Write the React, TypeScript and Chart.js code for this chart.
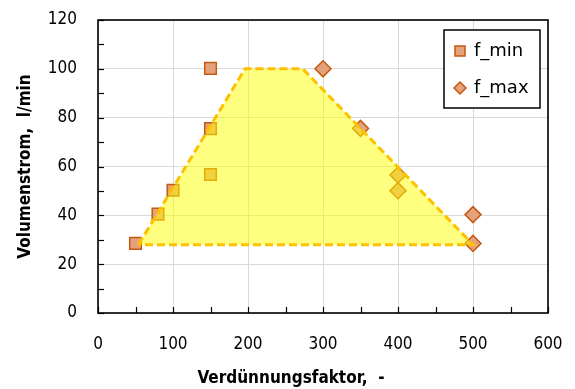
import React, { useEffect, useRef } from "react";
import { Chart, registerables } from "chart.js";

Chart.register(...registerables);

const minX = [50, 80, 100, 150, 150, 150];
const minY = [28.5, 40.5, 50.3, 56.7, 75.5, 100.2];
const maxX = [300, 350, 400, 400, 500, 500];
const maxY = [100, 75.6, 56.5, 50.1, 40.3, 28.5];
const zoneX = [54, 196, 273, 500, 54];
const zoneY = [28, 100, 100, 28, 28];

const xTicks = { min: 0, max: 600, step: 100, minor: 50 };
const yTicks = { min: 0, max: 120, step: 20, minor: 10 };

const xTitle = "Verdünnungsfaktor,  -";
const yTitle = "Volumenstrom,  l/min";

const FONT = "'DejaVu Sans Condensed', 'DejaVu Sans', sans-serif";
const MARK_FILL = "#E3A27C";
const MARK_BORDER = "#C55A11";

const framePlugin = {
  id: "frame",
  afterDatasetsDraw(chart: any) {
    const { ctx, chartArea: a, scales } = chart;
    ctx.save();
    ctx.strokeStyle = "#000";
    ctx.lineWidth = 1.2;
    for (let v = yTicks.min; v <= yTicks.max; v += yTicks.minor) {
      const y = Math.round(scales.y.getPixelForValue(v)) + 0.5;
      ctx.beginPath();
      ctx.moveTo(a.left, y);
      ctx.lineTo(a.left + 6, y);
      ctx.stroke();
    }
    for (let v = xTicks.min; v <= xTicks.max; v += xTicks.minor) {
      const x = Math.round(scales.x.getPixelForValue(v)) + 0.5;
      ctx.beginPath();
      ctx.moveTo(x, a.bottom);
      ctx.lineTo(x, a.bottom - 6);
      ctx.stroke();
    }
    ctx.lineWidth = 1.6;
    ctx.strokeRect(a.left, a.top, a.right - a.left, a.bottom - a.top);
    ctx.restore();
  },
  afterDraw(chart: any) {
    const { ctx } = chart;
    ctx.save();
    ctx.fillStyle = "#000";
    ctx.font = `bold 17px ${FONT}`;
    ctx.textAlign = "center";
    ctx.textBaseline = "middle";
    ctx.fillText(xTitle, 291, 379);
    const lx = 444, ly = 30, lw = 96, lh = 78;
    ctx.fillStyle = "#fff";
    ctx.fillRect(lx, ly, lw, lh);
    ctx.strokeStyle = "#000";
    ctx.lineWidth = 1.5;
    ctx.strokeRect(lx, ly, lw, lh);
    ctx.fillStyle = MARK_FILL;
    ctx.strokeStyle = MARK_BORDER;
    ctx.lineWidth = 1.5;
    ctx.beginPath();
    ctx.rect(455, 46, 10, 10);
    ctx.fill();
    ctx.stroke();
    ctx.beginPath();
    ctx.moveTo(454, 88);
    ctx.lineTo(460, 82);
    ctx.lineTo(466, 88);
    ctx.lineTo(460, 94);
    ctx.closePath();
    ctx.fill();
    ctx.stroke();
    ctx.fillStyle = "#000";
    ctx.font = "18px 'DejaVu Sans', sans-serif";
    ctx.textAlign = "left";
    ctx.textBaseline = "middle";
    ctx.fillText("f_min", 474, 51);
    ctx.fillText("f_max", 474, 88);
    ctx.restore();
  },
};

export default function App() {
  const ref = useRef<HTMLCanvasElement | null>(null);
  useEffect(() => {
    if (!ref.current) return;
    const chart = new Chart(ref.current, {
      type: "scatter",
      data: {
        datasets: [
          {
            label: "zone",
            data: zoneX.map((x, i) => ({ x, y: zoneY[i] })),
            showLine: true,
            fill: "shape",
            backgroundColor: "rgba(255,255,0,0.5)",
            borderColor: "#FFC000",
            borderWidth: 3,
            borderDash: [8, 4],
            pointRadius: 0,
            tension: 0,
            order: 0,
          } as any,
          {
            label: "f_min",
            data: minX.map((x, i) => ({ x, y: minY[i] })),
            pointStyle: "rect",
            pointRadius: 8.2,
            backgroundColor: MARK_FILL,
            borderColor: MARK_BORDER,
            borderWidth: 1.5,
            order: 1,
          },
          {
            label: "f_max",
            data: maxX.map((x, i) => ({ x, y: maxY[i] })),
            pointStyle: "rectRot",
            pointRadius: 8,
            backgroundColor: MARK_FILL,
            borderColor: MARK_BORDER,
            borderWidth: 1.5,
            order: 2,
          },
        ],
      },
      options: {
        responsive: false,
        animation: false,
        layout: { padding: { left: 0, right: 27, top: 20, bottom: 0 } },
        plugins: {
          legend: { display: false },
          tooltip: { enabled: false },
        },
        scales: {
          x: {
            type: "linear",
            min: xTicks.min,
            max: xTicks.max,
            ticks: {
              stepSize: xTicks.step,
              color: "#000",
              font: { family: FONT, size: 17 },
              padding: 0,
            },
            grid: { color: "#d9d9d9", lineWidth: 1, drawTicks: true, tickLength: 21, tickColor: "rgba(0,0,0,0)" },
            border: { display: false },
            afterFit: (s: any) => {
              s.height = 76;
            },
          },
          y: {
            type: "linear",
            min: yTicks.min,
            max: yTicks.max,
            ticks: {
              stepSize: yTicks.step,
              color: "#000",
              font: { family: FONT, size: 17 },
              padding: 0,
            },
            title: {
              display: true,
              text: yTitle,
              color: "#000",
              font: { family: FONT, size: 17, weight: "bold" },
              padding: { top: 15, bottom: 0 },
            },
            grid: { color: "#d9d9d9", lineWidth: 1, drawTicks: true, tickLength: 21, tickColor: "rgba(0,0,0,0)" },
            border: { display: false },
            afterFit: (s: any) => {
              s.width = 98;
            },
          },
        },
      },
      plugins: [framePlugin],
    });
    return () => chart.destroy();
  }, []);
  return (
    <div style={{ position: "fixed", left: 0, top: 0, width: 575, height: 389, background: "#fff" }}>
      <canvas ref={ref} width={575} height={389} />
    </div>
  );
}
